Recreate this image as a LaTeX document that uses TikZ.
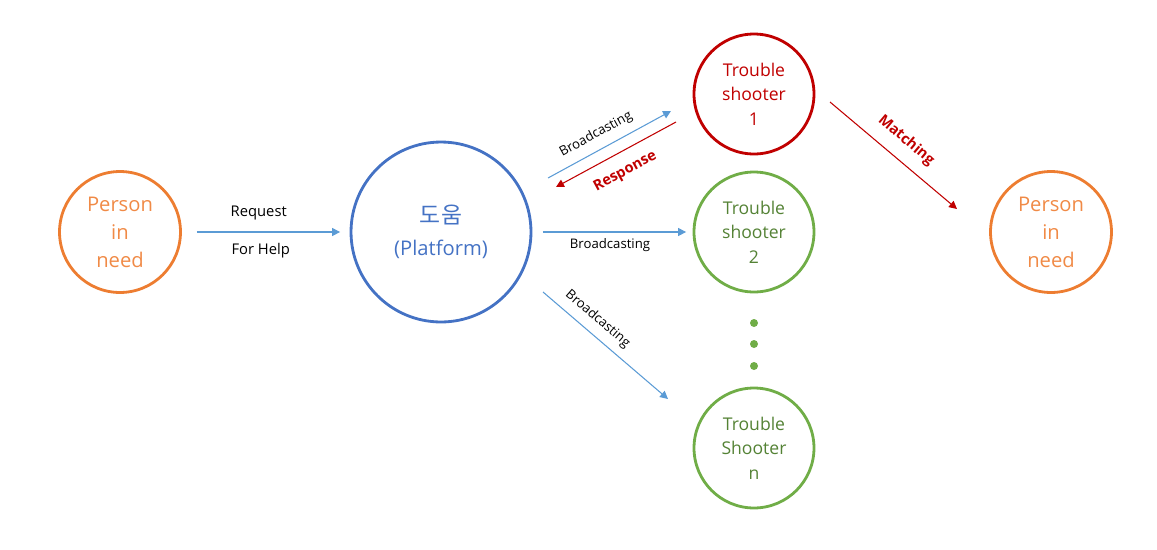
\documentclass[tikz,border=0pt]{standalone}
\usepackage{fontspec}
\setmainfont{Open Sans}
\newfontfamily\krfont{Noto Sans CJK KR}
\usetikzlibrary{arrows.meta}
\definecolor{pinOrange}{HTML}{ED7D31}
\definecolor{pinText}{HTML}{F08A46}
\definecolor{platBlue}{HTML}{4472C4}
\definecolor{tsRed}{HTML}{C00000}
\definecolor{tsGreen}{HTML}{70AD47}
\definecolor{tsText}{HTML}{548235}
\definecolor{arrBlue}{HTML}{5B9BD5}
\newcommand{\Bcast}{\fontsize{7.5}{9}\selectfont Broadcasting}

\begin{document}
\begin{tikzpicture}[x=0.02cm,y=-0.02cm,
  ring/.style={circle,line width=1.6pt,minimum size=2.42cm,align=center,inner sep=0pt},
  person/.style={ring,draw=pinOrange,text=pinText,font=\fontsize{11.5}{16}\selectfont},
  shooter/.style={ring,minimum size=2.4cm,font=\fontsize{10}{14}\selectfont},
  dot/.style={circle,fill=tsGreen,inner sep=0pt,minimum size=0.16cm},
  flow/.style={arrBlue,line width=0.6pt,-{Triangle[length=4.5pt,width=4.5pt]}},
  back/.style={flow,tsRed},
  lbl/.style={inner sep=1pt,text=black,font=\fontsize{8.4}{10}\selectfont},
  bold lbl/.style={inner sep=1pt,text=tsRed,font=\fontsize{8.3}{10}\selectfont\bfseries}]
\useasboundingbox (0,0) rectangle (1157,549);

\node[person] (pin) at (120,232) {Person\\in\\need};
\node[ring,draw=platBlue,text=platBlue,minimum size=3.6cm,font=\fontsize{11.5}{18}\selectfont] (plat) at (441,232)
  {{\krfont\fontsize{13}{18}\selectfont 도움}\\(Platform)};
\node[shooter,draw=tsRed,text=tsRed] (ts1) at (754,94) {Trouble\\shooter\\1};
\node[shooter,draw=tsGreen,text=tsText] (ts2) at (754,232) {Trouble\\shooter\\2};
\node[dot] (d1) at (754,323) {};
\node[dot] (d2) at (754,344) {};
\node[dot] (d3) at (754,366) {};
\node[shooter,draw=tsGreen,text=tsText] (tsn) at (754,448) {Trouble\\Shooter\\n};
\node[person] (pout) at (1051,232) {Person\\in\\need};

\coordinate (bc1-s) at (548,178);
\coordinate (bc1-e) at (671,111);
\coordinate (resp-s) at (676,122);
\coordinate (resp-e) at (556,187);
\coordinate (bcn-s) at (543,292);
\coordinate (bcn-e) at (668,399);
\coordinate (match-s) at (830,102);
\coordinate (match-e) at (957,209);

\path (pin) edge[flow,shorten <=0.3cm,shorten >=0.19cm] node[lbl,above=5.6pt,xshift=-0.14cm] {Request}
  node[lbl,below=5pt,xshift=-0.1cm] {For Help} (plat);
\path (bc1-s) edge[flow] node[lbl,sloped,above=3.7pt,pos=0.45] {\Bcast} (bc1-e);
\path (resp-s) edge[back] node[bold lbl,sloped,below=5.9pt] {Response} (resp-e);
\path (plat) edge[flow,shorten <=0.21cm,shorten >=0.13cm] node[lbl,below=2.6pt,xshift=-0.05cm] {\Bcast} (ts2);
\path (bcn-s) edge[flow] node[lbl,sloped,above=3.4pt,pos=0.36] {\Bcast} (bcn-e);
\path (match-s) edge[back] node[bold lbl,sloped,above=5.7pt] {Matching} (match-e);
\end{tikzpicture}
\end{document}
